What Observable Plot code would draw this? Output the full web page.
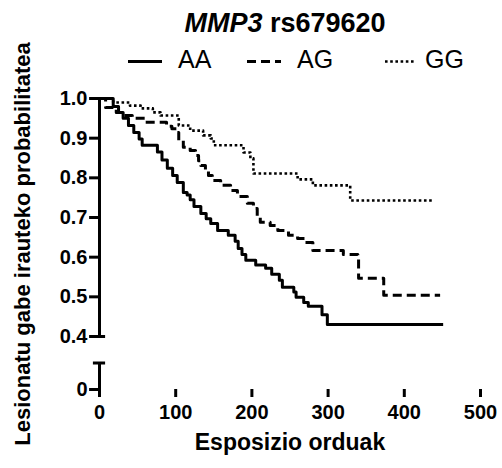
<!DOCTYPE html>
<html><head><meta charset="utf-8">
<script src="https://cdn.jsdelivr.net/npm/d3@7"></script>
<script src="https://cdn.jsdelivr.net/npm/@observablehq/plot@0.6"></script>
<style>
html,body{margin:0;padding:0;background:#fff;}
#wrap{position:relative;width:502px;height:468px;overflow:hidden;font-family:"Liberation Sans",Arial,sans-serif;}
#head{position:absolute;left:0;top:0;}
#chart{position:absolute;left:0;top:78px;}
</style></head><body>
<div id="wrap"><div id="head"></div><div id="chart"></div></div>
<script>
// ---- data ----
const groups = ["AA", "AG", "GG"];
const titleGene = "MMP3";
const titleSnp = " rs679620";
const xLabel = "Esposizio orduak";
const yLabel = "Lesionatu gabe irauteko probabilitatea";
const xTicks = [0, 100, 200, 300, 400, 500];
const yTicks = [0, 0.4, 0.5, 0.6, 0.7, 0.8, 0.9, 1.0];

const aaTime = [0, 18, 25, 31, 38, 45, 52, 56, 76, 82, 89, 96, 102, 110, 115, 119, 124, 133, 140, 146, 155, 169, 178, 182, 187, 192, 205, 218, 226, 236, 240, 255, 258, 268, 274, 292, 299, 451];
const aaSurv = [1.0, 0.980, 0.965, 0.950, 0.932, 0.914, 0.898, 0.882, 0.865, 0.845, 0.824, 0.806, 0.788, 0.763, 0.757, 0.745, 0.728, 0.710, 0.697, 0.685, 0.667, 0.655, 0.640, 0.622, 0.607, 0.592, 0.580, 0.572, 0.557, 0.542, 0.524, 0.512, 0.499, 0.486, 0.476, 0.455, 0.430, 0.430];

const agTime = [0, 8, 22, 31, 43, 60, 88, 95, 102, 104, 110, 119, 126, 130, 133, 139, 143, 148, 159, 172, 181, 194, 202, 207, 211, 224, 234, 248, 260, 270, 280, 320, 339, 340, 373, 447];
const agSurv = [1.0, 0.977, 0.965, 0.957, 0.950, 0.940, 0.930, 0.924, 0.914, 0.894, 0.877, 0.869, 0.856, 0.843, 0.831, 0.819, 0.806, 0.793, 0.781, 0.768, 0.753, 0.736, 0.723, 0.700, 0.688, 0.680, 0.667, 0.655, 0.647, 0.637, 0.617, 0.607, 0.600, 0.547, 0.504, 0.504];

const ggTime = [0, 18, 40, 54, 70, 80, 104, 119, 136, 146, 150, 189, 198, 202, 260, 280, 329, 437];
const ggSurv = [1.0, 0.990, 0.982, 0.975, 0.965, 0.957, 0.932, 0.919, 0.907, 0.899, 0.882, 0.864, 0.849, 0.811, 0.796, 0.781, 0.743, 0.743];

// ---- broken y axis: values below 0.4 are compressed ----
const yBreak = 0.4;
const lowRatio = 0.334;      // compression of the 0–0.4 part
const lowTop = 0.2;          // top of the short lower axis piece
const yDisp = v => v >= yBreak ? v : yBreak - (yBreak - v) * lowRatio;

// ---- build tables ----
const series = {
  AA: aaTime.map((t, i) => ({g: "AA", t, s: aaSurv[i]})),
  AG: agTime.map((t, i) => ({g: "AG", t, s: agSurv[i]})),
  GG: ggTime.map((t, i) => ({g: "GG", t, s: ggSurv[i]}))
};
const styleOf = {
  AA: {strokeWidth: 3, strokeDasharray: null, strokeLinecap: "butt"},
  AG: {strokeWidth: 3, strokeDasharray: "9,5", strokeLinecap: "butt"},
  GG: {strokeWidth: 2.6, strokeDasharray: "2.6,2.6", strokeLinecap: "butt"}
};

// ---- header: title + legend ----
const head = d3.select("#head").append("svg").attr("width", 502).attr("height", 78)
  .style("font-family", "'Liberation Sans', Arial, sans-serif");
const t = head.append("text").attr("x", 285).attr("y", 32).attr("text-anchor", "middle")
  .attr("font-size", 27).attr("font-weight", "bold");
t.append("tspan").attr("font-style", "italic").text(titleGene);
t.append("tspan").text(titleSnp);
const legendLayout = [{x1: 128, x2: 162, tx: 178}, {x1: 247, x2: 281, tx: 297}, {x1: 385, x2: 416, tx: 425}];
groups.forEach((g, i) => {
  const L = legendLayout[i], st = styleOf[g];
  head.append("line").attr("x1", L.x1).attr("x2", L.x2).attr("y1", 61.5).attr("y2", 61.5)
    .attr("stroke", "#000").attr("stroke-width", st.strokeWidth)
    .attr("stroke-dasharray", st.strokeDasharray).attr("stroke-linecap", "butt");
  head.append("text").attr("x", L.tx).attr("y", 68).attr("font-size", 25).text(g);
});

// ---- chart ----
const fmtY = d => d === 0 ? "0" : d.toFixed(1);
const plot = Plot.plot({
  width: 502,
  height: 390,
  marginLeft: 99, marginRight: 22, marginTop: 20, marginBottom: 79,
  style: {fontFamily: "'Liberation Sans', Arial, sans-serif", fontWeight: "bold", fontSize: "20px", color: "#000", background: "transparent", overflow: "visible"},
  x: {domain: [0, 500]},
  y: {domain: [yDisp(0), 1.0], axis: null},
  marks: [
    Plot.axisX(xTicks, {tickSize: 8, tickPadding: 7, strokeWidth: 3, label: null, tickFormat: d => String(d)}),
    // y ticks + labels
    Plot.ruleY(yTicks, {y: yDisp, x1: -13, x2: 0, strokeWidth: 3}),
    Plot.text(yTicks, {y: yDisp, x: 0, dx: -12, textAnchor: "end", text: fmtY, fontSize: 20, fontWeight: "bold"}),
    // axis lines
    Plot.ruleY([0], {x1: 0, x2: 500, strokeWidth: 3}),
    Plot.ruleX([0], {y1: yDisp(0), y2: yDisp(lowTop), strokeWidth: 3}),
    Plot.ruleX([0], {y1: yDisp(yBreak), y2: 1.0, strokeWidth: 3}),
    Plot.ruleY([lowTop, yBreak, 1.0], {y: yDisp, x1: -8, x2: 8, strokeWidth: 3}),
    // survival curves
    ...groups.map(g => Plot.line(series[g], {x: "t", y: d => yDisp(d.s), curve: "step-after", stroke: "#000", ...styleOf[g]})),
    // axis titles
    Plot.text([xLabel], {frameAnchor: "bottom", dy: 53, lineAnchor: "middle", textAnchor: "middle", fontSize: 23, fontWeight: "bold", text: d => d}),
    Plot.text([yLabel], {frameAnchor: "left", dx: -77, rotate: -90, textAnchor: "middle", lineAnchor: "middle", fontSize: 22, fontWeight: "bold", text: d => d})
  ]
});
document.getElementById("chart").appendChild(plot);
</script>
</body></html>
